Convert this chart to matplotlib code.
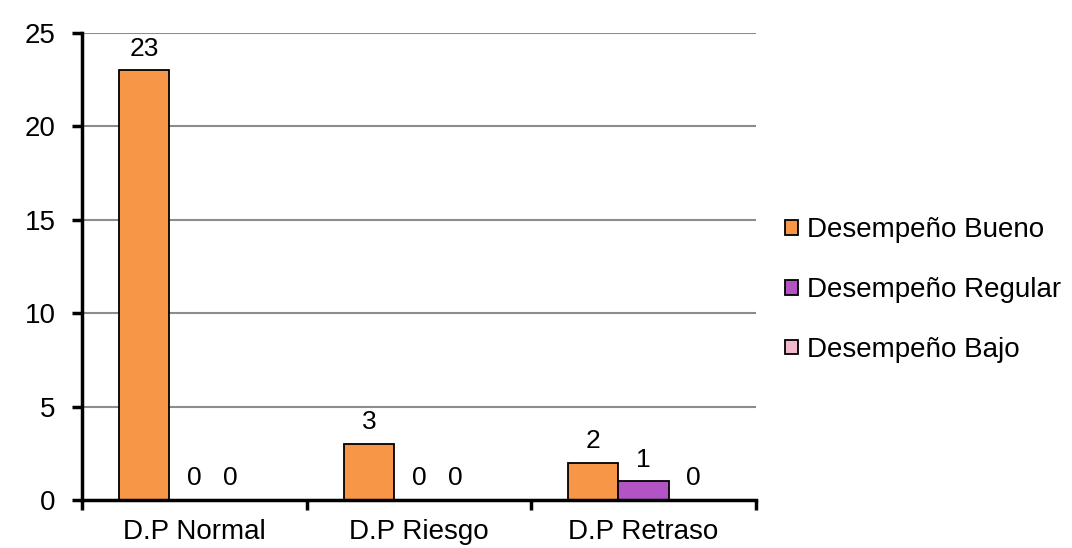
import numpy as np
import matplotlib.pyplot as plt

plt.rcParams['font.family'] = ['Liberation Sans', 'DejaVu Sans']

categories = ["D.P Normal", "D.P Riesgo", "D.P Retraso"]
series_names = ["Desempeño Bueno", "Desempeño Regular", "Desempeño Bajo"]
bueno = [23, 3, 2]
regular = [0, 0, 1]
bajo = [0, 0, 0]
colors = ["#F79646", "#B254C4", "#F2B8CB"]

fig = plt.figure(figsize=(10.72, 5.48), dpi=100)
ax = fig.add_axes([0.0765, 0.0876, 0.6285, 0.8522])

x = np.arange(len(categories))
w = 0.223
series = [bueno, regular, bajo]
for i, (vals, name, c) in enumerate(zip(series, series_names, colors)):
    pos = x + (i - 1) * w
    ax.bar(pos, vals, w, color=c, edgecolor="black", linewidth=1.3, label=name)
    for j, (p, v) in enumerate(zip(pos, vals)):
        # excel squeezes the two zero labels together
        dx = -10 if (i == 2 and series[1][j] == 0) else 0
        ax.annotate(str(v), (p, v), xytext=(dx, 7), textcoords="offset points",
                    ha="center", va="bottom", fontsize=19)

ax.set_xlim(-0.5, 2.5)
ax.set_ylim(0, 25)
ax.set_yticks([0, 5, 10, 15, 20, 25])
ax.set_xticks(x)
ax.set_xticklabels(categories)
ax.set_xticks([-0.5, 0.5, 1.5, 2.5], minor=True)
ax.tick_params(axis="x", which="major", length=0, labelsize=20, pad=14)
ax.tick_params(axis="x", which="minor", length=7, width=2.5, direction="out")
ax.tick_params(axis="y", length=7, width=2.5, direction="out", labelsize=20, pad=12)

ax.yaxis.grid(True, color="#8c8c8c", linewidth=1.5)
ax.set_axisbelow(True)
for s in ["top", "right"]:
    ax.spines[s].set_visible(False)
ax.spines["left"].set_linewidth(2.5)
ax.spines["bottom"].set_linewidth(2.5)

ax.legend(loc="center left", bbox_to_anchor=(785 / 1072, 1 - 290 / 548),
          bbox_transform=fig.transFigure, frameon=False, borderpad=0, borderaxespad=0,
          fontsize=20, handlelength=0.45, handleheight=0.45, handletextpad=0.35,
          labelspacing=1.22)

plt.savefig("out.png", dpi=100)
